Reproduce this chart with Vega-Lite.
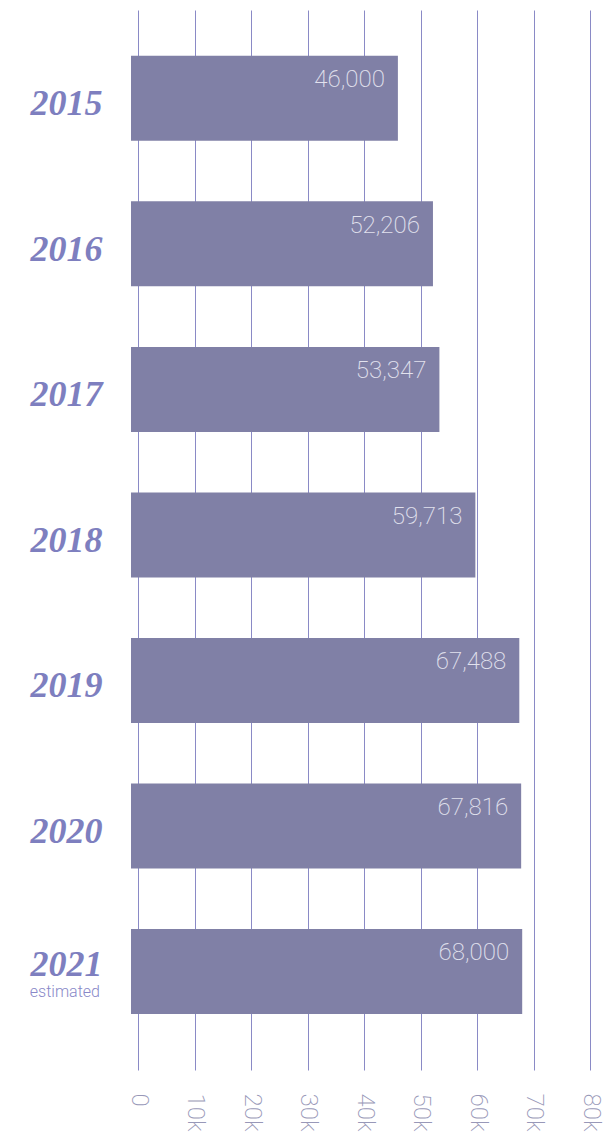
{
  "$schema": "https://vega.github.io/schema/vega-lite/v6.json",
  "width": 452,
  "height": 1060,
  "autosize": {"type": "none"},
  "padding": {"left": 138, "top": 10, "right": 14, "bottom": 64},
  "background": "white",
  "config": {"view": {"stroke": null}},
  "data": {
    "values": [
      {"year": "2015", "value": 46000, "note": ""},
      {"year": "2016", "value": 52206, "note": ""},
      {"year": "2017", "value": 53347, "note": ""},
      {"year": "2018", "value": 59713, "note": ""},
      {"year": "2019", "value": 67488, "note": ""},
      {"year": "2020", "value": 67816, "note": ""},
      {"year": "2021", "value": 68000, "note": "estimated"}
    ]
  },
  "encoding": {
    "y": {
      "field": "year",
      "type": "ordinal",
      "sort": null,
      "scale": {"paddingInner": 0.416, "paddingOuter": 0.35, "align": 0.45},
      "axis": {
        "title": null,
        "domain": false,
        "ticks": false,
        "grid": false,
        "labelFont": "Liberation Serif",
        "labelFontSize": 36,
        "labelFontWeight": "bold",
        "labelFontStyle": "italic",
        "labelColor": "#7e7fbf",
        "labelPadding": 36,
        "labelBaseline": "alphabetic",
        "labelOffset": {"condition": {"test": "datum.value == '2021'", "value": 5}, "value": 17}
      }
    }
  },
  "layer": [
    {
      "mark": {"type": "bar", "color": "#8080a6", "x2Offset": -7},
      "encoding": {
        "x": {
          "field": "value",
          "type": "quantitative",
          "stack": null,
          "scale": {"domain": [0, 80000], "nice": false},
          "axis": {
            "title": null,
            "orient": "bottom",
            "domain": false,
            "ticks": false,
            "grid": true,
            "gridColor": "#8a8ac6",
            "gridWidth": 1,
            "values": [0, 10000, 20000, 30000, 40000, 50000, 60000, 70000, 80000],
            "labelExpr": "datum.value == 0 ? '0' : (datum.value / 1000) + 'k'",
            "labelAngle": 90,
            "labelAlign": "left",
            "labelBaseline": "middle",
            "labelFont": "Roboto",
            "labelFontWeight": 200,
            "labelFontSize": 24,
            "labelColor": "#9898b8",
            "labelPadding": 23,
            "labelFlush": false,
            "labelOverlap": false
          }
        },
        "x2": {"datum": 0}
      }
    },
    {
      "mark": {"type": "text", "align": "right", "baseline": "middle", "dx": -13, "dy": -18, "font": "Roboto", "fontWeight": 200, "fontSize": 24, "color": "#e2e2ee"},
      "encoding": {
        "x": {"field": "value", "type": "quantitative"},
        "text": {"field": "value", "type": "quantitative", "format": ","}
      }
    },
    {
      "transform": [{"filter": "datum.note != ''"}],
      "mark": {"type": "text", "align": "right", "baseline": "alphabetic", "dx": -38, "dy": 26, "font": "Roboto", "fontWeight": 300, "fontSize": 16, "color": "#8888c8"},
      "encoding": {
        "x": {"datum": 0},
        "text": {"field": "note"}
      }
    }
  ]
}
